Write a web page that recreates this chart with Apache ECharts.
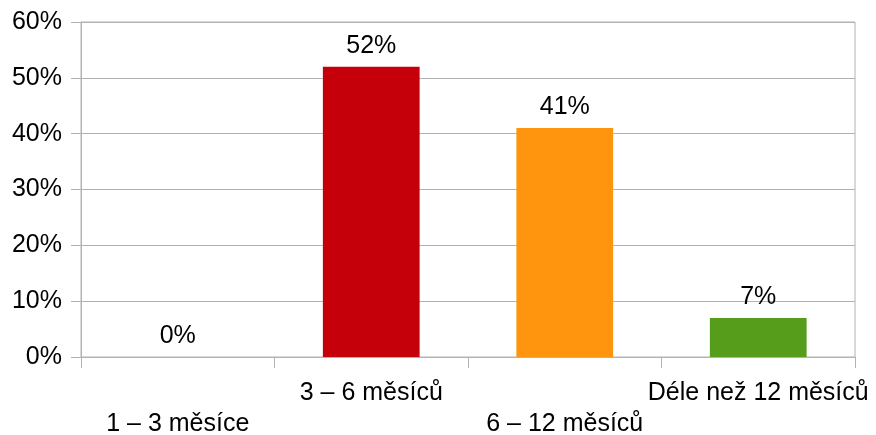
<!DOCTYPE html>
<html>
<head>
<meta charset="utf-8">
<script src="https://cdn.jsdelivr.net/npm/echarts@6/dist/echarts.min.js"></script>
<style>
  html, body { margin: 0; padding: 0; background: #fff; }
  #chart { width: 876px; height: 435px; }
</style>
</head>
<body>
<div id="chart"></div>
<script>
// Délka období (kategorie) a podíl odpovědí v procentech
const categories = ['1 – 3 měsíce', '3 – 6 měsíců', '6 – 12 měsíců', 'Déle než 12 měsíců'];
const shares = [0, 52, 41, 7];
const barColors = ['#004586', '#c5000b', '#ff950e', '#579d1c'];
const yTicks = [0, 10, 20, 30, 40, 50, 60];

const FONT = '"Liberation Sans", Arial, sans-serif';
const GRID_COLOR = '#b3b3b3';

const chart = echarts.init(document.getElementById('chart'), null, { renderer: 'canvas' });

chart.setOption({
  animation: false,
  backgroundColor: '#ffffff',
  grid: {
    left: 81, top: 22, width: 774, height: 335,
    outerBoundsMode: 'none',
    containLabel: false,
    show: true, borderColor: GRID_COLOR, borderWidth: 1, backgroundColor: 'transparent'
  },
  xAxis: {
    type: 'category',
    data: categories,
    axisLine: { show: true, lineStyle: { color: GRID_COLOR, width: 1 } },
    axisTick: { show: true, length: 11, lineStyle: { color: GRID_COLOR } },
    axisLabel: {
      interval: 0,
      hideOverlap: false,
      margin: 21,
      fontFamily: FONT,
      fontSize: 25,
      color: '#000',
      lineHeight: 31,
      // popisky se střídají ve dvou řádcích, aby se nepřekrývaly
      formatter: (value, idx) => (idx % 2 === 0 ? '\n' + value : value)
    }
  },
  yAxis: {
    type: 'value',
    min: yTicks[0],
    max: yTicks[yTicks.length - 1],
    interval: yTicks[1] - yTicks[0],
    axisLine: { show: true, lineStyle: { color: GRID_COLOR, width: 1 } },
    axisTick: { show: true, length: 10, lineStyle: { color: GRID_COLOR } },
    splitLine: { show: true, lineStyle: { color: GRID_COLOR, width: 1 } },
    axisLabel: {
      margin: 19,
      fontFamily: FONT,
      fontSize: 25,
      color: '#000',
      formatter: v => v + '%'
    }
  },
  series: [{
    type: 'bar',
    barWidth: '50%',
    data: shares.map((v, i) => ({ value: v, itemStyle: { color: barColors[i] } })),
    label: {
      show: true,
      position: 'top',
      distance: 8,
      fontFamily: FONT,
      fontSize: 25,
      color: '#000',
      formatter: p => p.value + '%'
    }
  }]
});
</script>
</body>
</html>
